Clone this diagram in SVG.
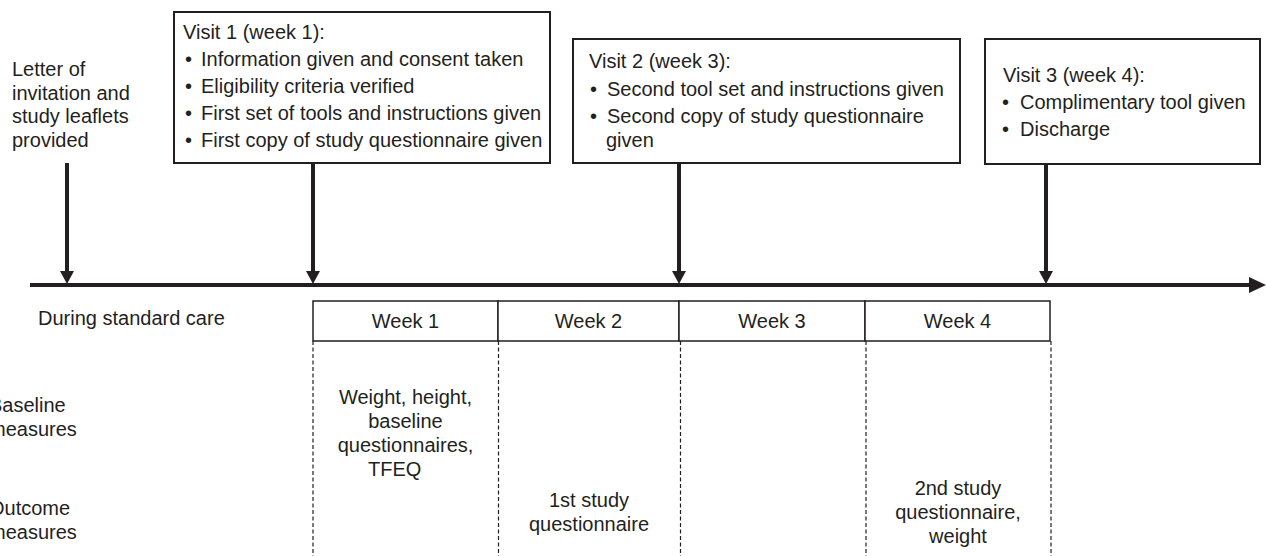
<svg xmlns="http://www.w3.org/2000/svg" width="1266" height="556" viewBox="0 0 1266 556">
<style>
text{font-family:"Liberation Sans",Arial,sans-serif;font-size:20px;fill:#231f20}
.c{text-anchor:middle}
.box{fill:#fff;stroke:#231f20;stroke-width:2}
.wk{fill:#fff;stroke:#231f20;stroke-width:1.5}
.dash{stroke:#231f20;stroke-width:1.2;stroke-dasharray:4 2.5;fill:none}
.arr{stroke:#231f20;stroke-width:4;fill:none}
.head{fill:#231f20}
</style>
<rect width="1266" height="556" fill="#fff"/>
<g id="connectors">
<line class="arr" x1="30" y1="285" x2="1252" y2="285"/>
<polygon class="head" points="1249,277 1266,285 1249,293"/>
<line class="arr" x1="67" y1="163" x2="67" y2="272"/>
<polygon class="head" points="60,271 74,271 67,284"/>
<line class="arr" x1="313" y1="163" x2="313" y2="272"/>
<polygon class="head" points="306,271 320,271 313,284"/>
<line class="arr" x1="679" y1="163" x2="679" y2="272"/>
<polygon class="head" points="672,271 686,271 679,284"/>
<line class="arr" x1="1046" y1="164" x2="1046" y2="272"/>
<polygon class="head" points="1039,271 1053,271 1046,284"/>
</g>
<g id="letter">
<text x="12" y="76">Letter of</text>
<text x="12" y="100">invitation and</text>
<text x="12" y="123">study leaflets</text>
<text x="12" y="147">provided</text>
</g>
<g id="visit1">
<rect class="box" x="174" y="12" width="376" height="151"/>
<text x="183" y="39">Visit 1 (week 1):</text>
<text x="185" y="66">•</text><text x="201" y="66">Information given and consent taken</text>
<text x="185" y="93">•</text><text x="201" y="93">Eligibility criteria verified</text>
<text x="185" y="120">•</text><text x="201" y="120">First set of tools and instructions given</text>
<text x="185" y="147">•</text><text x="201" y="147">First copy of study questionnaire given</text>
</g>
<g id="visit2">
<rect class="box" x="573" y="39" width="387" height="124"/>
<text x="589" y="68">Visit 2 (week 3):</text>
<text x="590" y="96">•</text><text x="607" y="96">Second tool set and instructions given</text>
<text x="590" y="123">•</text><text x="607" y="123">Second copy of study questionnaire</text>
<text x="606" y="147">given</text>
</g>
<g id="visit3">
<rect class="box" x="985" y="39" width="275" height="125"/>
<text x="1003" y="82">Visit 3 (week 4):</text>
<text x="1002" y="109">•</text><text x="1020" y="109">Complimentary tool given</text>
<text x="1002" y="136">•</text><text x="1020" y="136">Discharge</text>
</g>
<g id="labels">
<text x="38" y="325">During standard care</text>
<text x="-11" y="412">Baseline</text>
<text x="-11" y="436">measures</text>
<text x="-11" y="515">Outcome</text>
<text x="-11" y="539">measures</text>
</g>
<g id="grid">
<line class="dash" x1="313" y1="341" x2="313" y2="556"/>
<line class="dash" x1="498.5" y1="341" x2="498.5" y2="556"/>
<line class="dash" x1="680.5" y1="341" x2="680.5" y2="556"/>
<line class="dash" x1="866" y1="341" x2="866" y2="556"/>
<line class="dash" x1="1051" y1="341" x2="1051" y2="556"/>
</g>
<g id="week1">
<rect class="wk" x="313" y="301" width="185" height="40"/>
<text class="c" x="405.5" y="328">Week 1</text>
<text class="c" x="405.5" y="404">Weight, height,</text>
<text class="c" x="405.5" y="428">baseline</text>
<text class="c" x="405.5" y="452">questionnaires,</text>
<text x="368" y="476">TFEQ</text>
</g>
<g id="week2">
<rect class="wk" x="498" y="301" width="181" height="40"/>
<text class="c" x="588.5" y="328">Week 2</text>
<text class="c" x="589" y="507">1st study</text>
<text class="c" x="589" y="531">questionnaire</text>
</g>
<g id="week3">
<rect class="wk" x="679" y="301" width="186" height="40"/>
<text class="c" x="772" y="328">Week 3</text>
</g>
<g id="week4">
<rect class="wk" x="865" y="301" width="185" height="40"/>
<text class="c" x="957.5" y="328">Week 4</text>
<text class="c" x="958" y="495">2nd study</text>
<text class="c" x="958" y="519">questionnaire,</text>
<text class="c" x="958" y="543">weight</text>
</g>
</svg>
